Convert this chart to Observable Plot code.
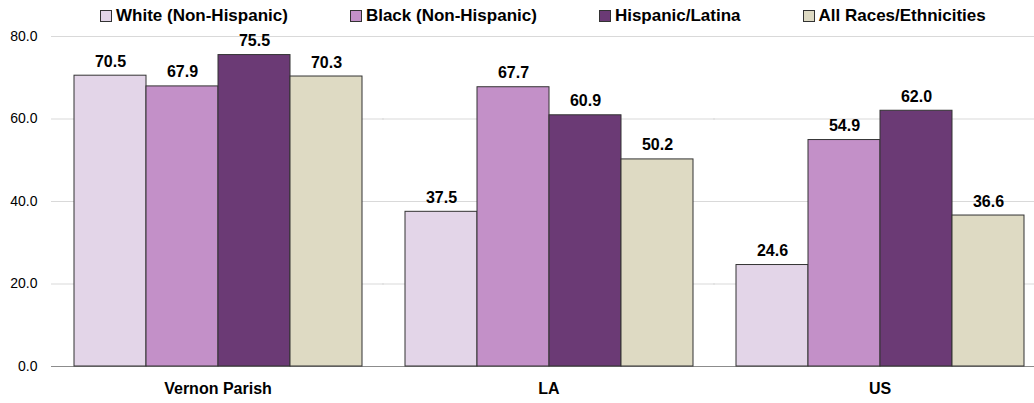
<!DOCTYPE html>
<html>
<head>
<meta charset="utf-8">
<script src="https://cdn.jsdelivr.net/npm/d3@7"></script>
<script src="https://cdn.jsdelivr.net/npm/@observablehq/plot@0.6"></script>
<style>
  html, body { margin: 0; padding: 0; background: #fff; overflow: hidden; }
  body { font-family: "Liberation Sans", Arial, sans-serif; }
  #wrap { position: relative; width: 1034px; height: 403px; overflow: hidden; }
  #legend { position: absolute; top: 7px; left: 100px; display: flex; gap: 62px;
            font-weight: bold; font-size: 17px; line-height: 18px; color: #000; white-space: nowrap; }
  .item { display: flex; align-items: center; }
  .sw { width: 10px; height: 10px; border: 1px solid #333; margin-right: 4px; }
</style>
</head>
<body>
<div id="wrap"><div id="chart"></div><div id="legend"></div></div>
<script>
const groups = ["Vernon Parish", "LA", "US"];
const races = ["White (Non-Hispanic)", "Black (Non-Hispanic)", "Hispanic/Latina", "All Races/Ethnicities"];
const colors = ["#E3D5E8", "#C390C8", "#6B3A75", "#DEDAC3"];
const white = [70.5, 37.5, 24.6];
const black = [67.9, 67.7, 54.9];
const hispanic = [75.5, 60.9, 62.0];
const allRaces = [70.3, 50.2, 36.6];
const yTicks = [0, 20, 40, 60, 80];

const series = [white, black, hispanic, allRaces];
const rows = groups.flatMap((g, i) => races.map((r, j) => ({group: g, race: r, value: series[j][i]})));

const chart = Plot.plot({
  width: 1034,
  height: 403,
  marginLeft: 51,
  marginRight: -11,
  marginTop: 36,
  marginBottom: 37,
  style: {fontFamily: "'Liberation Sans', Arial, sans-serif", background: "transparent", overflow: "visible"},
  fx: {domain: groups, paddingInner: 0.128, paddingOuter: 0.064, label: null},
  x: {domain: races, padding: 0, axis: null},
  y: {domain: [0, 80], axis: null},
  color: {domain: races, range: colors},
  marks: [
    Plot.ruleY(yTicks.filter(d => d > 0), {stroke: "#d9d9d9", strokeWidth: 1, insetLeft: -22, insetRight: -22}),
    Plot.ruleY([0], {stroke: "#8c8c8c", strokeWidth: 1.2, insetLeft: -22, insetRight: -22}),
    Plot.axisY({ticks: yTicks, tickFormat: d3.format(".1f"), tickSize: 0, tickPadding: 36, fontSize: 14, fill: "#000", label: null}),
    Plot.barY(rows, {fx: "group", x: "race", y: "value", fill: "race", stroke: "#333", strokeWidth: 1}),
    Plot.text(rows, {fx: "group", x: "race", y: "value", text: d => d.value.toFixed(1), lineAnchor: "bottom", dy: -9, fontSize: 16, fontWeight: "bold", fill: "#000"}),
    Plot.axisFx({anchor: "bottom", tickSize: 0, tickPadding: 16, fontSize: 16, fontWeight: "bold", fill: "#000", label: null})
  ]
});
document.getElementById("chart").appendChild(chart);

const legend = document.getElementById("legend");
races.forEach((r, i) => {
  const item = document.createElement("div");
  item.className = "item";
  const sw = document.createElement("div");
  sw.className = "sw";
  sw.style.background = colors[i];
  const t = document.createElement("span");
  t.textContent = r;
  item.appendChild(sw);
  item.appendChild(t);
  legend.appendChild(item);
});
</script>
</body>
</html>
